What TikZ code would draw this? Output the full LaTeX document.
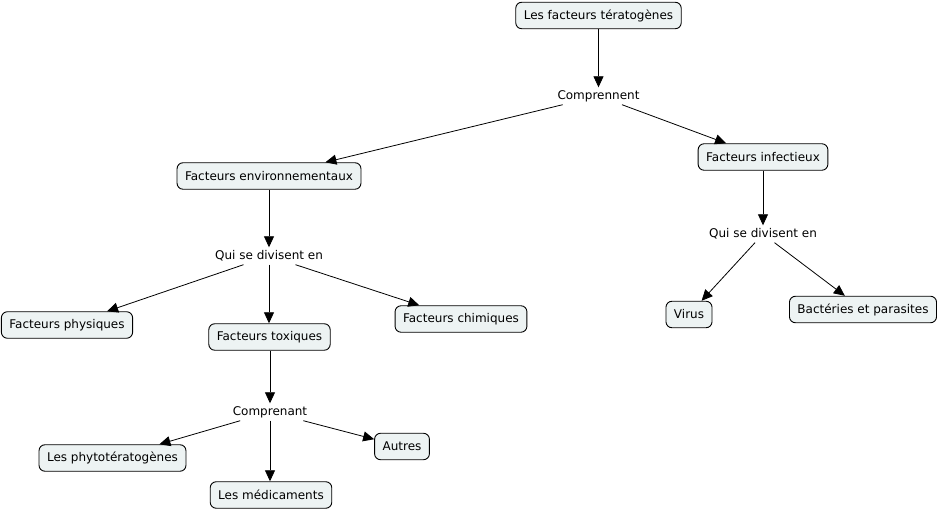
\documentclass[tikz,border=0pt]{standalone}
\usepackage{fontspec}
\setmainfont{DejaVu Sans}
\usetikzlibrary{arrows.meta}
\definecolor{cfill}{HTML}{EDF3F3}
\tikzset{
  concept/.style={draw=black, line width=0.9pt, fill=cfill, rounded corners=6pt,
    minimum height=26.5pt, inner xsep=8pt, inner ysep=3pt, font=\fontsize{12}{14}\selectfont},
  link/.style={inner sep=2pt, minimum height=17pt, font=\fontsize{12}{14}\selectfont},
  conn/.style={line width=0.8pt, -{Triangle[length=11pt,width=10pt]}}
}
\begin{document}
\begin{tikzpicture}[x=1pt,y=-1pt]
\useasboundingbox (0,0) rectangle (938,510);
\node[concept] (top) at (598.5,15.5) {Les facteurs tératogènes};
\node[link] (comp) at (598.5,96) {Comprennent};
\node[concept] (env) at (269,176) {Facteurs environnementaux};
\node[concept] (inf) at (763,157) {Facteurs infectieux};
\node[link] (qsdl) at (269,256) {Qui se divisent en};
\node[link] (qsdr) at (763,234) {Qui se divisent en};
\node[concept] (phys) at (67,325) {Facteurs physiques};
\node[concept] (tox) at (269.5,337) {Facteurs toxiques};
\node[concept] (chim) at (461,319) {Facteurs chimiques};
\node[concept] (virus) at (689,314.5) {Virus};
\node[concept] (bact) at (863,309.5) {Bactéries et parasites};
\node[link] (compr) at (270,412) {Comprenant};
\node[concept] (phyto) at (112.5,458) {Les phytotératogènes};
\node[concept] (autres) at (402,446.5) {Autres};
\node[concept] (medic) at (271,495) {Les médicaments};

\draw[conn] (top) -- (comp);
\draw[conn] (comp) -- (env);
\draw[conn] (comp) -- (inf);
\draw[conn] (env) -- (qsdl);
\draw[conn] (inf.south) -- (qsdr.north -| inf.south);
\draw[conn] (qsdl) -- (phys);
\draw[conn] (qsdl.south) -- (tox.north -| qsdl.south);
\draw[conn] (qsdl) -- (chim);
\draw[conn] (qsdr) -- (virus);
\draw[conn] (qsdr) -- (bact);
\draw[conn] (tox.south -| compr.south) -- (compr.north);
\draw[conn] (compr) -- (phyto);
\draw[conn] (compr.south) -- (medic.north -| compr.south);
\draw[conn] (compr) -- (autres);
\end{tikzpicture}
\end{document}
